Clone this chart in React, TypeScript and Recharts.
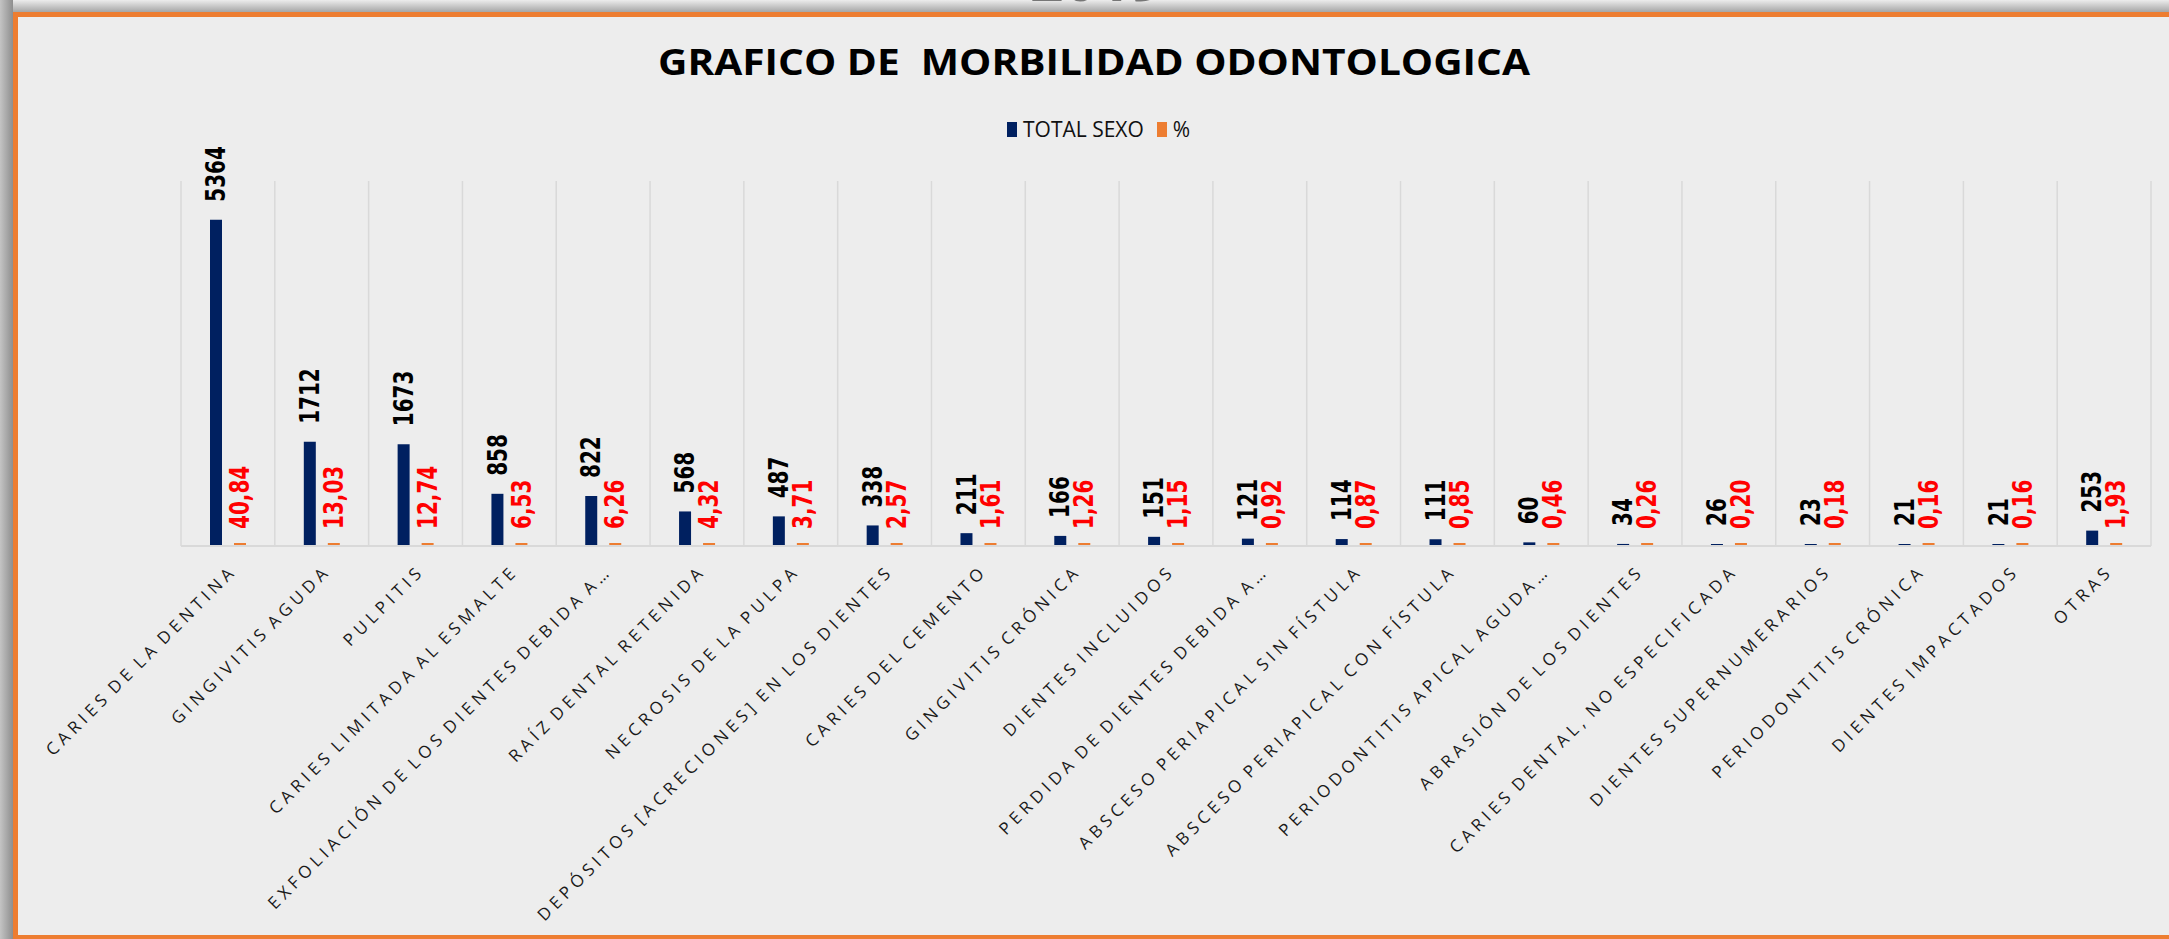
import React from "react";
import {
  BarChart,
  Bar,
  XAxis,
  YAxis,
  CartesianGrid,
  Legend,
  LabelList,
} from "recharts";

// values
const categories = [
  "CARIES DE LA DENTINA",
  "GINGIVITIS AGUDA",
  "PULPITIS",
  "CARIES LIMITADA AL ESMALTE",
  "EXFOLIACIÓN DE LOS DIENTES DEBIDA A…",
  "RAÍZ DENTAL RETENIDA",
  "NECROSIS DE LA PULPA",
  "DEPÓSITOS [ACRECIONES] EN LOS DIENTES",
  "CARIES DEL CEMENTO",
  "GINGIVITIS CRÓNICA",
  "DIENTES INCLUIDOS",
  "PERDIDA DE DIENTES DEBIDA A…",
  "ABSCESO PERIAPICAL SIN FÍSTULA",
  "ABSCESO PERIAPICAL CON FÍSTULA",
  "PERIODONTITIS APICAL AGUDA…",
  "ABRASIÓN DE LOS DIENTES",
  "CARIES DENTAL, NO ESPECIFICADA",
  "DIENTES SUPERNUMERARIOS",
  "PERIODONTITIS CRÓNICA",
  "DIENTES IMPACTADOS",
  "OTRAS",
];
const totalSexo = [5364, 1712, 1673, 858, 822, 568, 487, 338, 211, 166, 151, 121, 114, 111, 60, 34, 26, 23, 21, 21, 253];
const porcentaje = [40.84, 13.03, 12.74, 6.53, 6.26, 4.32, 3.71, 2.57, 1.61, 1.26, 1.15, 0.92, 0.87, 0.85, 0.46, 0.26, 0.2, 0.18, 0.16, 0.16, 1.93];
const seriesNames = ["TOTAL SEXO", "%"];
const yDomain = [0, 6000];
const title = "GRAFICO DE  MORBILIDAD ODONTOLOGICA";

const W = 2169;
const H = 939;
const NAVY = "#002060";
const ORANGE = "#ED7D31";

const data = categories.map((name, i) => ({
  name,
  total: totalSexo[i],
  pct: porcentaje[i],
}));

const CategoryTick = (props: any) => {
  const { x, y, payload } = props;
  const ax = x + 10;
  const ay = y + 24;
  return (
    <text
      x={ax}
      y={ay}
      textAnchor="end"
      transform={`rotate(-45, ${ax}, ${ay})`}
      fontFamily="'Open Sans', sans-serif"
      fontSize={17}
      fill="#1a1a1a"
      style={{ letterSpacing: 4.55, wordSpacing: -4 }}
    >
      {payload.value}
    </text>
  );
};

const makeLabel = (color: string, gap: number, fmt: (v: number) => string) =>
  (props: any) => {
    const { x, y, width, value } = props;
    const cx = Number(x) + Number(width) / 2;
    const ty = Number(y) - gap;
    return (
      <text
        transform={`translate(${cx},${ty}) rotate(-90) scale(1,1.37)`}
        textAnchor="start"
        dominantBaseline="central"
        fontFamily="'DejaVu Sans', sans-serif"
        fontWeight="bold"
        fontSize={20}
        fill={color}
      >
        {fmt(Number(value))}
      </text>
    );
  };

const TotalLabel = makeLabel("#000000", 18, (v) => String(v));
const PctLabel = makeLabel("#FF0000", 14, (v) => v.toFixed(2).replace(".", ","));

const LegendBox = () => (
  <div
    style={{
      display: "flex",
      alignItems: "center",
      fontFamily: "'Open Sans', sans-serif",
      fontSize: 21,
      color: "#111",
      lineHeight: "20px",
    }}
  >
    <span style={{ width: 10, height: 15, background: NAVY, marginRight: 6 }} />
    <span style={{ marginRight: 13 }}>{seriesNames[0]}</span>
    <span style={{ width: 10, height: 15, background: ORANGE, marginRight: 6 }} />
    <span>{seriesNames[1]}</span>
  </div>
);

export default function App() {
  return (
    <div
      style={{
        position: "relative",
        width: W,
        height: H,
        overflow: "hidden",
        background: "#9c9c9c",
      }}
    >
      <style>{"body{margin:0}"}</style>
      <div
        style={{
          position: "absolute",
          left: 0,
          top: 0,
          width: W,
          height: 12,
          background: "linear-gradient(#ececec, #a6a6a6)",
        }}
      />
      <svg
        width={W}
        height={12}
        style={{ position: "absolute", left: 0, top: 0 }}
      >
        <text
          x={1030}
          y={1}
          fontFamily="'Open Sans', sans-serif"
          fontWeight={700}
          fontSize={60}
          fill="#5a5a5a"
          opacity={0.8}
          textLength={134}
          lengthAdjust="spacingAndGlyphs"
        >
          2019
        </text>
      </svg>
      <div
        style={{
          position: "absolute",
          left: 0,
          top: 0,
          width: 13,
          height: H,
          background: "linear-gradient(to right, #c4c4c4, #8e8e8e)",
        }}
      />
      <div
        style={{
          position: "absolute",
          left: 13,
          top: 12,
          width: W,
          height: 928,
          border: `5px solid ${ORANGE}`,
          background: "#EDEDED",
          boxSizing: "border-box",
        }}
      />
      <svg
        width={W}
        height={110}
        style={{ position: "absolute", left: 0, top: 0 }}
      >
        <text
          x={1094}
          y={75}
          textAnchor="middle"
          fontFamily="'Open Sans', sans-serif"
          fontWeight={700}
          fontSize={36}
          textLength={872}
          lengthAdjust="spacingAndGlyphs"
          fill="#000"
          style={{ whiteSpace: "pre" }}
        >
          {title}
        </text>
      </svg>
      <div style={{ position: "absolute", left: 0, top: 0 }}>
        <BarChart
          width={W}
          height={H}
          data={data}
          margin={{ top: 181, right: 18, bottom: 93, left: 181 }}
          barSize={12}
          barGap={12}
        >
          <CartesianGrid
            horizontal={false}
            stroke="#D9D9D9"
            strokeWidth={1.5}
            verticalCoordinatesGenerator={({ offset }: any) =>
              Array.from(
                { length: categories.length + 1 },
                (_, i) => offset.left + (i * offset.width) / categories.length
              )
            }
          />
          <XAxis
            dataKey="name"
            interval={0}
            height={300}
            tickLine={false}
            tickSize={0}
            axisLine={{ stroke: "#D9D9D9", strokeWidth: 2 }}
            tick={<CategoryTick />}
          />
          <YAxis hide width={0} domain={yDomain} />
          <Legend
            layout="horizontal"
            verticalAlign="middle"
            align="center"
            wrapperStyle={{ top: 119, left: 1007, width: "auto", height: 20 }}
            content={<LegendBox />}
          />
          <Bar
            dataKey="total"
            name={seriesNames[0]}
            fill={NAVY}
            minPointSize={2}
            isAnimationActive={false}
          >
            <LabelList dataKey="total" content={TotalLabel} />
          </Bar>
          <Bar
            dataKey="pct"
            name={seriesNames[1]}
            fill={ORANGE}
            minPointSize={3}
            isAnimationActive={false}
          >
            <LabelList dataKey="pct" content={PctLabel} />
          </Bar>
        </BarChart>
      </div>
    </div>
  );
}
